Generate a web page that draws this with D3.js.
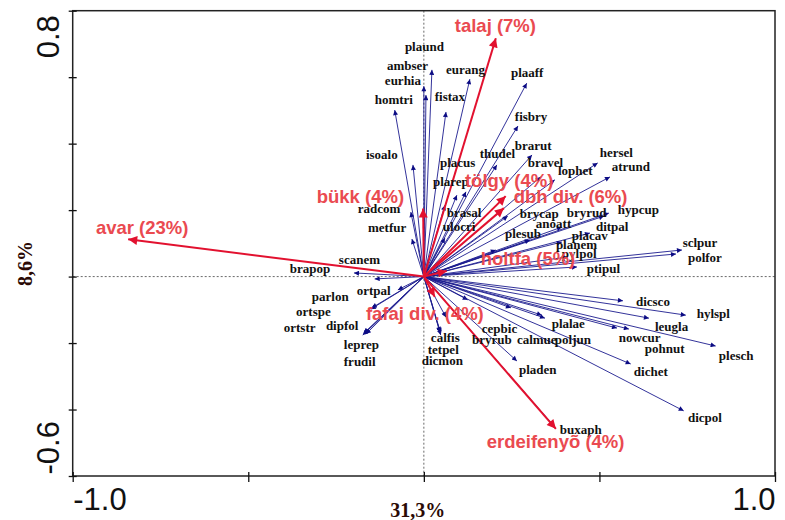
<!DOCTYPE html>
<html>
<head>
<meta charset="utf-8">
<script src="https://cdn.jsdelivr.net/npm/d3@7"></script>
<style>
  body { margin: 0; background: #fff; }
  svg { display: block; }
</style>
</head>
<body>
<svg id="chart" width="785" height="520"></svg>
<script>
// species arrows (axis units) and where their labels sit
const species = ['plaund', 'ambser', 'eurhia', 'homtri', 'eurang', 'fistax', 'plaaff', 'fisbry', 'isoalo', 'thudel',
  'brarut', 'bravel', 'lophet', 'hersel', 'atrund', 'placus', 'plarep', 'brasal', 'ulocri', 'radcom',
  'metfur', 'brycap', 'bryrud', 'hypcup', 'anoatt', 'ditpal', 'placav', 'planem', 'pylpol', 'ptipul',
  'plesub', 'sclpur', 'polfor', 'scanem', 'brapop', 'ortpal', 'parlon', 'ortspe', 'ortstr', 'dipfol',
  'leprep', 'frudil', 'calfis', 'tetpel', 'dicmon', 'cepbic', 'bryrub', 'calmue', 'plalae', 'poljun',
  'nowcur', 'pohnut', 'dicsco', 'hylspl', 'leugla', 'plesch', 'dichet', 'dicpol', 'pladen', 'buxaph']
const spX = [0.023, 0.000, 0.006, -0.083, 0.131, 0.063, 0.293, 0.268, -0.031, 0.208,
  0.308, 0.333, 0.373, 0.495, 0.530, 0.120, 0.094, 0.060, 0.060, -0.037,
  -0.034, 0.239, 0.513, 0.527, 0.393, 0.473, 0.393, 0.205, 0.410, 0.436,
  0.302, 0.735, 0.718, -0.140, -0.199, -0.074, -0.148, -0.151, -0.171, -0.174,
  -0.171, -0.165, 0.048, 0.048, 0.046, 0.125, 0.063, 0.248, 0.336, 0.345,
  0.550, 0.584, 0.567, 0.746, 0.641, 0.831, 0.589, 0.740, 0.265, 0.370]
const spY = [0.622, 0.573, 0.546, 0.501, 0.594, 0.495, 0.582, 0.453, 0.336, 0.336,
  0.366, 0.300, 0.291, 0.342, 0.300, 0.255, 0.245, 0.215, 0.116, 0.194,
  0.113, 0.182, 0.182, 0.191, 0.149, 0.131, 0.104, 0.080, 0.059, 0.029,
  0.110, 0.080, 0.068, -0.007, 0.011, -0.040, -0.094, -0.098, -0.173, -0.176,
  -0.170, -0.173, -0.176, -0.170, -0.167, -0.070, -0.122, -0.094, -0.116, -0.125,
  -0.155, -0.158, -0.073, -0.116, -0.125, -0.209, -0.263, -0.404, -0.254, -0.449]
const spLabX = [-0.054, -0.105, -0.111, -0.140, 0.063, 0.031, 0.248, 0.259, -0.165, 0.159,
  0.259, 0.296, 0.382, 0.501, 0.535, 0.046, 0.026, 0.065, 0.054, -0.188,
  -0.159, 0.273, 0.407, 0.552, 0.319, 0.490, 0.421, 0.376, 0.393, 0.464,
  0.231, 0.737, 0.752, -0.242, -0.382, -0.191, -0.319, -0.364, -0.399, -0.279,
  -0.228, -0.228, 0.020, 0.011, -0.006, 0.165, 0.137, 0.265, 0.364, 0.373,
  0.555, 0.629, 0.604, 0.777, 0.658, 0.840, 0.598, 0.752, 0.271, 0.387]
const spLabY = [0.679, 0.622, 0.576, 0.519, 0.609, 0.528, 0.600, 0.468, 0.354, 0.357,
  0.381, 0.330, 0.306, 0.360, 0.318, 0.330, 0.273, 0.179, 0.137, 0.191,
  0.134, 0.176, 0.179, 0.188, 0.146, 0.137, 0.110, 0.083, 0.056, 0.011,
  0.116, 0.089, 0.044, 0.038, 0.011, -0.055, -0.073, -0.119, -0.167, -0.161,
  -0.218, -0.269, -0.197, -0.233, -0.266, -0.170, -0.203, -0.203, -0.155, -0.203,
  -0.197, -0.230, -0.088, -0.125, -0.164, -0.251, -0.299, -0.437, -0.293, -0.474]

// environmental variables (red arrows)
const envNames = ['avar (23%)', 'bükk (4%)', 'talaj (7%)', 'tölgy (4%)', 'dbh div. (6%)', 'holtfa (5%)', 'fafaj div. (4%)', 'erdeifenyõ (4%)']
const envX = [-0.842, -0.002, 0.205, 0.233, 0.228, 0.065, 0.031, 0.376]
const envY = [0.112, 0.205, 0.717, 0.242, 0.206, 0.017, -0.061, -0.458]
const envLabX = [-0.934, -0.305, 0.088, 0.117, 0.256, 0.162, -0.165, 0.179]
const envLabY = [0.128, 0.221, 0.736, 0.270, 0.221, 0.035, -0.131, -0.516]

// axes
const xTicks = [-1, -0.5, 0, 0.5, 1]
const xTickLabels = ['-1.0', '', '', '', '1.0']
const yTicks = [-0.6, -0.4, -0.2, 0, 0.2, 0.4, 0.6, 0.8]
const yTickLabels = ['-0.6', '', '', '', '', '', '', '0.8']
const xTitle = '31,3%'
const yTitle = '8,6%'

const svg = d3.select('#chart')
const x = d3.scaleLinear().domain([-1, 1]).range([72.7, 775])
const y = d3.scaleLinear().domain([-0.6, 0.8]).range([476, 10.7])

const blue = '#1c1c8e'
const red = '#e2112f'
const redText = '#ea4a50'

// markers
const defs = svg.append('defs')
defs.append('marker')
  .attr('id', 'headBlue')
  .attr('viewBox', '0 0 10 10')
  .attr('refX', 10).attr('refY', 5)
  .attr('markerWidth', 7).attr('markerHeight', 5)
  .attr('markerUnits', 'userSpaceOnUse')
  .attr('orient', 'auto')
  .append('path').attr('d', 'M0,0L10,5L0,10z').style('fill', '#0c0c84')
defs.append('marker')
  .attr('id', 'headRed')
  .attr('viewBox', '0 0 10 10')
  .attr('refX', 10).attr('refY', 5)
  .attr('markerWidth', 14).attr('markerHeight', 9)
  .attr('markerUnits', 'userSpaceOnUse')
  .attr('orient', 'auto')
  .append('path').attr('d', 'M0,0L10,5L0,10z').style('fill', red)

// zero lines
svg.append('line')
  .attr('x1', x(-1)).attr('x2', x(1))
  .attr('y1', y(0)).attr('y2', y(0))
  .style('stroke', '#444').style('stroke-width', 0.8).style('stroke-dasharray', '2,2')
svg.append('line')
  .attr('x1', x(0)).attr('x2', x(0))
  .attr('y1', y(0.8)).attr('y2', y(-0.6))
  .style('stroke', '#444').style('stroke-width', 0.8).style('stroke-dasharray', '2,2')

// frame
svg.append('rect')
  .attr('x', x(-1)).attr('y', y(0.8))
  .attr('width', x(1) - x(-1)).attr('height', y(-0.6) - y(0.8))
  .style('fill', 'none').style('stroke', '#222').style('stroke-width', 1.5)

// x axis
const gx = svg.append('g')
  .attr('transform', `translate(0,${y(-0.6)})`)
  .call(d3.axisBottom(x).tickValues(xTicks).tickFormat((d, i) => xTickLabels[i]))
gx.select('.domain').remove()
gx.selectAll('.tick line').attr('y1', -4).attr('y2', 6).style('stroke', '#111').style('stroke-width', 1.3)
gx.selectAll('.tick text')
  .attr('y', 34).attr('dy', null)
  .style('font-family', 'Liberation Sans, Arial, sans-serif')
  .style('font-size', '31px').style('fill', '#111')
  .attr('text-anchor', (d, i) => i === 0 ? 'start' : 'end')

// y axis
const gy = svg.append('g')
  .attr('transform', `translate(${x(-1)},0)`)
  .call(d3.axisLeft(y).tickValues(yTicks).tickFormat((d, i) => yTickLabels[i]))
gy.select('.domain').remove()
gy.selectAll('.tick line').attr('x1', -4).attr('x2', 4).style('stroke', '#111').style('stroke-width', 1.3)
gy.selectAll('.tick text')
  .attr('x', null).attr('dy', null)
  .attr('transform', 'rotate(-90)')
  .attr('x', (d, i) => i === 0 ? 2 : -4)
  .attr('y', -14)
  .attr('text-anchor', (d, i) => i === 0 ? 'start' : 'end')
  .style('font-family', 'Liberation Sans, Arial, sans-serif')
  .style('font-size', '31px').style('fill', '#111')

// axis titles
svg.append('text')
  .attr('x', x(0) - 6).attr('y', 517)
  .attr('text-anchor', 'middle')
  .style('font-family', 'Liberation Serif, Times New Roman, serif')
  .style('font-weight', 'bold').style('font-size', '20px').style('fill', '#2b0a05')
  .text(xTitle)
svg.append('text')
  .attr('transform', `translate(32,${y(0) - 13}) rotate(-90)`)
  .attr('text-anchor', 'middle')
  .style('font-family', 'Liberation Serif, Times New Roman, serif')
  .style('font-weight', 'bold').style('font-size', '20px').style('fill', '#2b0a05')
  .text(yTitle)

// species arrows
svg.append('g').selectAll('line')
  .data(species)
  .enter()
  .append('line')
  .attr('x1', x(0)).attr('y1', y(0))
  .attr('x2', (d, i) => x(spX[i]))
  .attr('y2', (d, i) => y(spY[i]))
  .style('stroke', blue).style('stroke-width', 0.9)
  .attr('marker-end', 'url(#headBlue)')

// environmental arrows
svg.append('g').selectAll('line')
  .data(envNames)
  .enter()
  .append('line')
  .attr('x1', x(0)).attr('y1', y(0))
  .attr('x2', (d, i) => x(envX[i]))
  .attr('y2', (d, i) => y(envY[i]))
  .style('stroke', red).style('stroke-width', 2)
  .attr('marker-end', 'url(#headRed)')

// species labels
svg.append('g').selectAll('text')
  .data(species)
  .enter()
  .append('text')
  .attr('x', (d, i) => x(spLabX[i]))
  .attr('y', (d, i) => y(spLabY[i]))
  .style('font-family', 'Liberation Serif, Times New Roman, serif')
  .style('font-weight', 'bold').style('font-size', '13px').style('fill', '#111')
  .text(d => d)

// environmental labels
svg.append('g').selectAll('text')
  .data(envNames)
  .enter()
  .append('text')
  .attr('x', (d, i) => x(envLabX[i]))
  .attr('y', (d, i) => y(envLabY[i]))
  .style('font-family', 'Liberation Sans, Arial, sans-serif')
  .style('font-weight', 'bold').style('font-size', '18.5px').style('fill', redText)
  .text(d => d)
</script>
</body>
</html>
